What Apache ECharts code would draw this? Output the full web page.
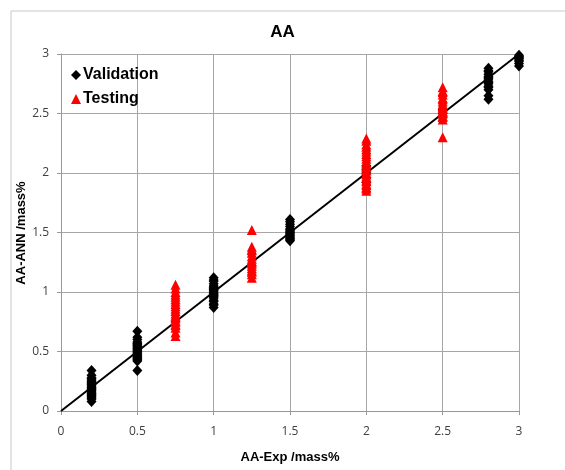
<!DOCTYPE html>
<html>
<head>
<meta charset="utf-8">
<script src="https://cdn.jsdelivr.net/npm/echarts@6/dist/echarts.min.js"></script>
<style>html,body{margin:0;padding:0;background:#fff;}#c{width:565px;height:470px;}</style>
</head>
<body>
<div id="c"></div>
<script>
// Validation data: x (experimental) and y (ANN) columns
const valGroups = [
  [0.2, [0.08,0.10,0.11,0.12,0.13,0.14,0.15,0.16,0.17,0.18,0.19,0.20,0.21,0.22,0.23,0.24,0.25,0.26,0.27,0.28,0.30,0.34]],
  [0.5, [0.34,0.42,0.43,0.44,0.45,0.46,0.47,0.48,0.49,0.50,0.51,0.52,0.53,0.54,0.55,0.56,0.57,0.58,0.60,0.62,0.67]],
  [1.0, [0.87,0.89,0.90,0.92,0.93,0.95,0.96,0.97,0.98,0.99,1.00,1.01,1.02,1.03,1.04,1.05,1.07,1.09,1.10,1.12]],
  [1.5, [1.43,1.44,1.45,1.46,1.47,1.48,1.49,1.50,1.51,1.52,1.53,1.55,1.57,1.59,1.61]],
  [2.0, [1.92,1.96,2.00,2.03,2.06]],
  [2.5, [2.47,2.50,2.53]],
  [2.8, [2.62,2.65,2.70,2.72,2.73,2.75,2.76,2.77,2.79,2.80,2.81,2.83,2.85,2.86,2.88]],
  [3.0, [2.90,2.92,2.94,2.95,2.96,2.97,2.98,2.99]]
];
// Testing data
const testGroups = [
  [0.75, [0.63,0.66,0.70,0.72,0.73,0.75,0.76,0.78,0.79,0.80,0.82,0.84,0.86,0.88,0.90,0.92,0.94,0.96,0.98,1.00,1.03,1.06]],
  [1.25, [1.12,1.15,1.17,1.18,1.20,1.22,1.24,1.25,1.26,1.28,1.30,1.33,1.35,1.36,1.38,1.52]],
  [2.0, [1.85,1.87,1.88,1.90,1.91,1.93,1.94,1.96,1.97,1.99,2.00,2.02,2.03,2.05,2.06,2.08,2.09,2.12,2.14,2.16,2.18,2.20,2.22,2.24,2.27,2.29]],
  [2.5, [2.30,2.45,2.47,2.48,2.50,2.51,2.52,2.54,2.55,2.56,2.58,2.60,2.62,2.63,2.66,2.68,2.69,2.72]]
];
const lineX = [0, 3];
const lineY = [0, 3];
const axisTicks = [0, 0.5, 1, 1.5, 2, 2.5, 3];
const yAxisTitle = 'AA-ANN /mass%';

function flatten(groups){ const out=[]; groups.forEach(g=>g[1].forEach(v=>out.push([g[0],v]))); return out; }

const chart = echarts.init(document.getElementById('c'), null, {renderer:'canvas'});
const tickFont = {fontFamily:'Open Sans', fontSize:12, color:'#404040'};
chart.setOption({
  animation:false,
  backgroundColor:'#fff',
  graphic:[
    {type:'rect', shape:{x:11,y:11,width:600,height:500}, style:{fill:'none', stroke:'#c8c8c8', lineWidth:1}, silent:true},
    {type:'text', x:21, y:233, rotation:Math.PI/2, silent:true,
     style:{text:yAxisTitle, fontFamily:'Liberation Sans', fontWeight:'bold', fontSize:13, fill:'#000', align:'center', verticalAlign:'middle'}}
  ],
  title:{text:'AA', left:'center', top:19, textStyle:{fontFamily:'Liberation Sans', fontWeight:'bold', fontSize:17, color:'#000'}},
  legend:{
    orient:'vertical', left:66, top:62, itemGap:8, itemWidth:10, itemHeight:10,
    data:[{name:'Validation', icon:'diamond'},{name:'Testing', icon:'triangle'}],
    textStyle:{fontFamily:'Liberation Sans', fontWeight:'bold', fontSize:16, color:'#000', padding:[0,0,0,-3]}
  },
  grid:{left:61, right:46, top:54, bottom:59},
  xAxis:{
    type:'value', min:0, max:3, interval:0.5,
    name:'AA-Exp /mass%', nameLocation:'middle', nameGap:40,
    nameTextStyle:{fontFamily:'Liberation Sans', fontWeight:'bold', fontSize:13, color:'#000'},
    axisLine:{show:true, lineStyle:{color:'#999', width:1}},
    axisTick:{show:true, length:4, lineStyle:{color:'#999'}},
    axisLabel:Object.assign({margin:15, formatter:v=>String(v)}, tickFont),
    splitLine:{show:true, lineStyle:{color:'#a6a6a6', width:1}}
  },
  yAxis:{
    type:'value', min:0, max:3, interval:0.5,
    axisLine:{show:true, lineStyle:{color:'#999', width:1}},
    axisTick:{show:true, length:4, lineStyle:{color:'#999'}},
    axisLabel:Object.assign({margin:12, formatter:v=>String(v)}, tickFont),
    splitLine:{show:true, lineStyle:{color:'#a6a6a6', width:1}}
  },
  series:[
    {name:'fit', type:'line', data:lineX.map((x,i)=>[x,lineY[i]]), showSymbol:false, symbol:'none',
     lineStyle:{color:'#000', width:2}, z:1, silent:true},
    {name:'Validation', type:'scatter', symbol:'diamond', symbolSize:[10,11], data:flatten(valGroups),
     itemStyle:{color:'#000', opacity:1}, z:2},
    {name:'Testing', type:'scatter', symbol:'triangle', symbolSize:[10,10], data:flatten(testGroups),
     itemStyle:{color:'#ff0000', opacity:1}, z:3}
  ]
});
</script>
</body>
</html>
